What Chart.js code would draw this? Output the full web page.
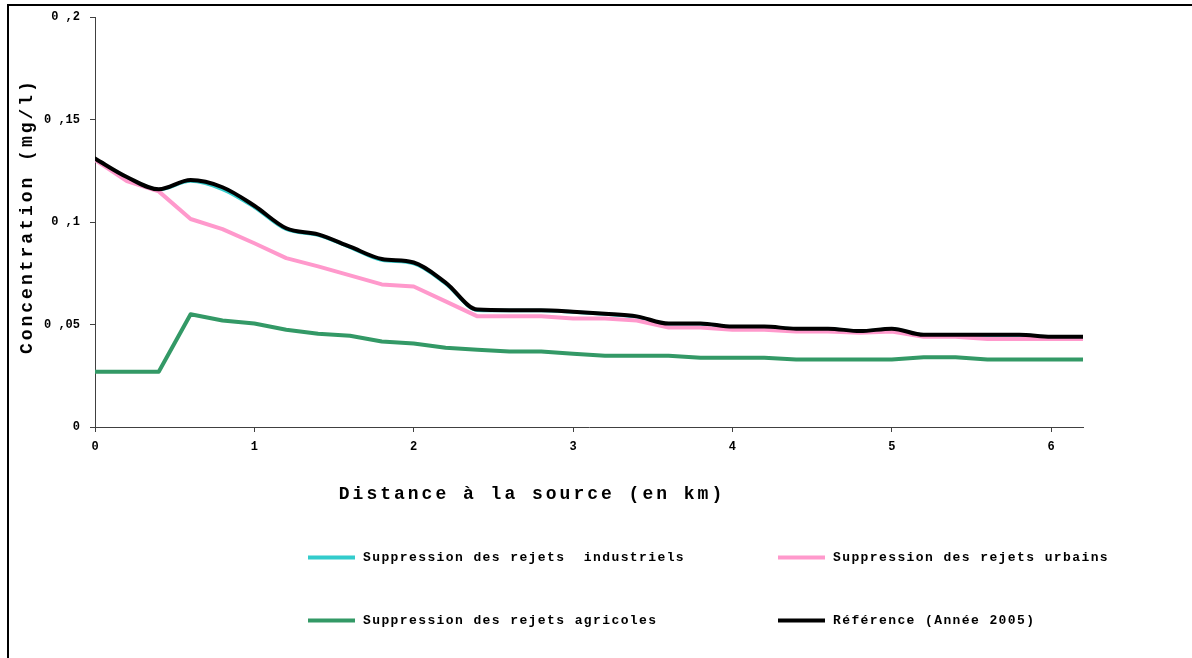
<!DOCTYPE html>
<html>
<head>
<meta charset="utf-8">
<script src="https://cdn.jsdelivr.net/npm/chart.js@4/dist/chart.umd.min.js"></script>
<style>
    body { margin: 0; background: #fff; }
    #wrap { position: relative; width: 1192px; height: 658px; overflow: hidden; }
    #frame { position: absolute; left: 7px; top: 4px; right: -10px; bottom: -10px; border-left: 2px solid #000; border-top: 2px solid #000; }
    #clicksChart { position: absolute; left: 0; top: 0; }
    .legend-item { position: absolute; display: flex; align-items: center; transform: translateY(-50%);
        font: bold 13px "Liberation Mono", monospace; letter-spacing: 1.4px; white-space: pre; color: #000; }
    .legend-line { width: 47px; height: 4px; margin-right: 8px; }
</style>
</head>
<body>
<div id="wrap">
    <div id="frame"></div>
    <canvas id="clicksChart" width="1192" height="658"></canvas>
    <div id="legend"></div>
</div>
<script>
const distances = [0, 0.2, 0.4, 0.6, 0.8, 1, 1.2, 1.4, 1.6, 1.8, 2, 2.2, 2.4, 2.6, 2.8, 3, 3.2, 3.4, 3.6, 3.8, 4, 4.2, 4.4, 4.6, 4.8, 5, 5.2, 5.4, 5.6, 5.8, 6, 6.2];
const industriels = [0.1305, 0.1215, 0.1158, 0.12, 0.116, 0.1073, 0.0965, 0.0937, 0.0877, 0.0815, 0.0798, 0.07, 0.057, 0.0568, 0.0568, 0.0561, 0.0551, 0.0538, 0.0503, 0.0503, 0.0488, 0.0488, 0.0478, 0.0478, 0.0466, 0.0478, 0.0449, 0.0449, 0.0449, 0.0449, 0.0439, 0.0439];
const urbains = [0.1304, 0.120, 0.115, 0.1015, 0.0966, 0.0897, 0.0824, 0.0784, 0.074, 0.0696, 0.0686, 0.0613, 0.054, 0.054, 0.054, 0.053, 0.053, 0.052, 0.0485, 0.0485, 0.0475, 0.0475, 0.0466, 0.0466, 0.046, 0.0466, 0.044, 0.044, 0.043, 0.043, 0.043, 0.043];
const agricoles = [0.027, 0.027, 0.027, 0.055, 0.052, 0.0505, 0.0475, 0.0455, 0.0445, 0.0417, 0.0407, 0.0387, 0.0377, 0.0368, 0.0368, 0.0358, 0.0348, 0.0348, 0.0348, 0.0338, 0.0338, 0.0338, 0.033, 0.033, 0.033, 0.033, 0.034, 0.034, 0.033, 0.033, 0.033, 0.033];
const reference = [0.131, 0.122, 0.116, 0.1205, 0.117, 0.108, 0.097, 0.094, 0.088, 0.082, 0.0803, 0.0705, 0.0573, 0.057, 0.057, 0.0563, 0.0553, 0.054, 0.0505, 0.0505, 0.049, 0.049, 0.048, 0.048, 0.0468, 0.048, 0.045, 0.045, 0.045, 0.045, 0.044, 0.044];
const seriesLabels = ['Suppression des rejets  industriels', 'Suppression des rejets urbains', 'Suppression des rejets agricoles', 'Référence (Année 2005)'];
const xTitle = 'Distance à la source (en km)';
const yTitle = 'Concentration (mg/l)';

const toPoints = vals => vals.map((v, i) => ({ x: distances[i], y: v }));
const axisColor = '#404040';
const titleFont = { family: 'Liberation Mono', size: 18, weight: 'bold' };
const tickFont = { family: 'Liberation Mono', size: 12, weight: 'bold' };

// spaced-out axis titles like the original
const spacedTitles = {
    id: 'spacedTitles',
    afterLayout(chart) {
        [['x', -57, 0], ['y', 0, -6]].forEach(([id, dx, dy]) => {
            const scale = chart.scales[id];
            if (scale._wrapped) return;
            const orig = scale.drawTitle;
            scale.drawTitle = function() {
                const ctx = this.ctx;
                ctx.save();
                ctx.letterSpacing = '3px';
                ctx.translate(dx, dy);
                orig.apply(this, arguments);
                ctx.restore();
            };
            scale._wrapped = true;
        });
    }
};

const chart = new Chart(document.getElementById('clicksChart').getContext('2d'), {
    type: 'line',
    data: {
        datasets: [
            { label: seriesLabels[0], data: toPoints(industriels), borderColor: '#33CCCC', borderWidth: 3.5, cubicInterpolationMode: 'monotone', order: 3 },
            { label: seriesLabels[1], data: toPoints(urbains), borderColor: '#FF99CC', borderWidth: 4, tension: 0, order: 2 },
            { label: seriesLabels[2], data: toPoints(agricoles), borderColor: '#339966', borderWidth: 4, tension: 0, order: 1 },
            { label: seriesLabels[3], data: toPoints(reference), borderColor: '#000000', borderWidth: 4, cubicInterpolationMode: 'monotone', order: 0 }
        ]
    },
    options: {
        responsive: false,
        animation: false,
        layout: { padding: { left: 0, top: 14, right: 109, bottom: 141 } },
        elements: { point: { radius: 0 }, line: { borderCapStyle: 'round', borderJoinStyle: 'round' } },
        scales: {
            x: {
                type: 'linear', min: 0, max: 6.2,
                afterFit: s => { s.height = 90; },
                border: { display: true, color: axisColor, width: 1 },
                grid: { drawOnChartArea: false, drawTicks: true, tickLength: 5, color: axisColor },
                ticks: { stepSize: 1, includeBounds: false, color: '#000', font: tickFont, padding: 8, maxRotation: 0 },
                title: { display: true, text: xTitle, color: '#000', font: titleFont, padding: { top: 0, bottom: 12 } }
            },
            y: {
                min: 0, max: 0.2,
                afterFit: s => { s.width = 95; },
                border: { display: true, color: axisColor, width: 1 },
                grid: { drawOnChartArea: false, drawTicks: true, tickLength: 5, color: axisColor },
                ticks: { stepSize: 0.05, color: '#000', font: tickFont, padding: 10,
                    callback: v => String(Math.round(v * 100) / 100).replace('.', ' ,') },
                title: { display: true, text: yTitle, color: '#000', font: titleFont, padding: { top: 17, bottom: 0 } }
            }
        },
        plugins: { legend: { display: false }, tooltip: { enabled: false } }
    },
    plugins: [spacedTitles]
});

// legend laid out as a 2 x 2 grid, as in the original
const legendSpots = [[308, 557], [778, 557], [308, 620], [778, 620]];
const legendEl = document.getElementById('legend');
chart.data.datasets.forEach((ds, i) => {
    const item = document.createElement('div');
    item.className = 'legend-item';
    item.style.left = legendSpots[i][0] + 'px';
    item.style.top = legendSpots[i][1] + 'px';
    const line = document.createElement('span');
    line.className = 'legend-line';
    line.style.background = ds.borderColor;
    const text = document.createElement('span');
    text.textContent = ds.label;
    item.appendChild(line);
    item.appendChild(text);
    legendEl.appendChild(item);
});
</script>
</body>
</html>
